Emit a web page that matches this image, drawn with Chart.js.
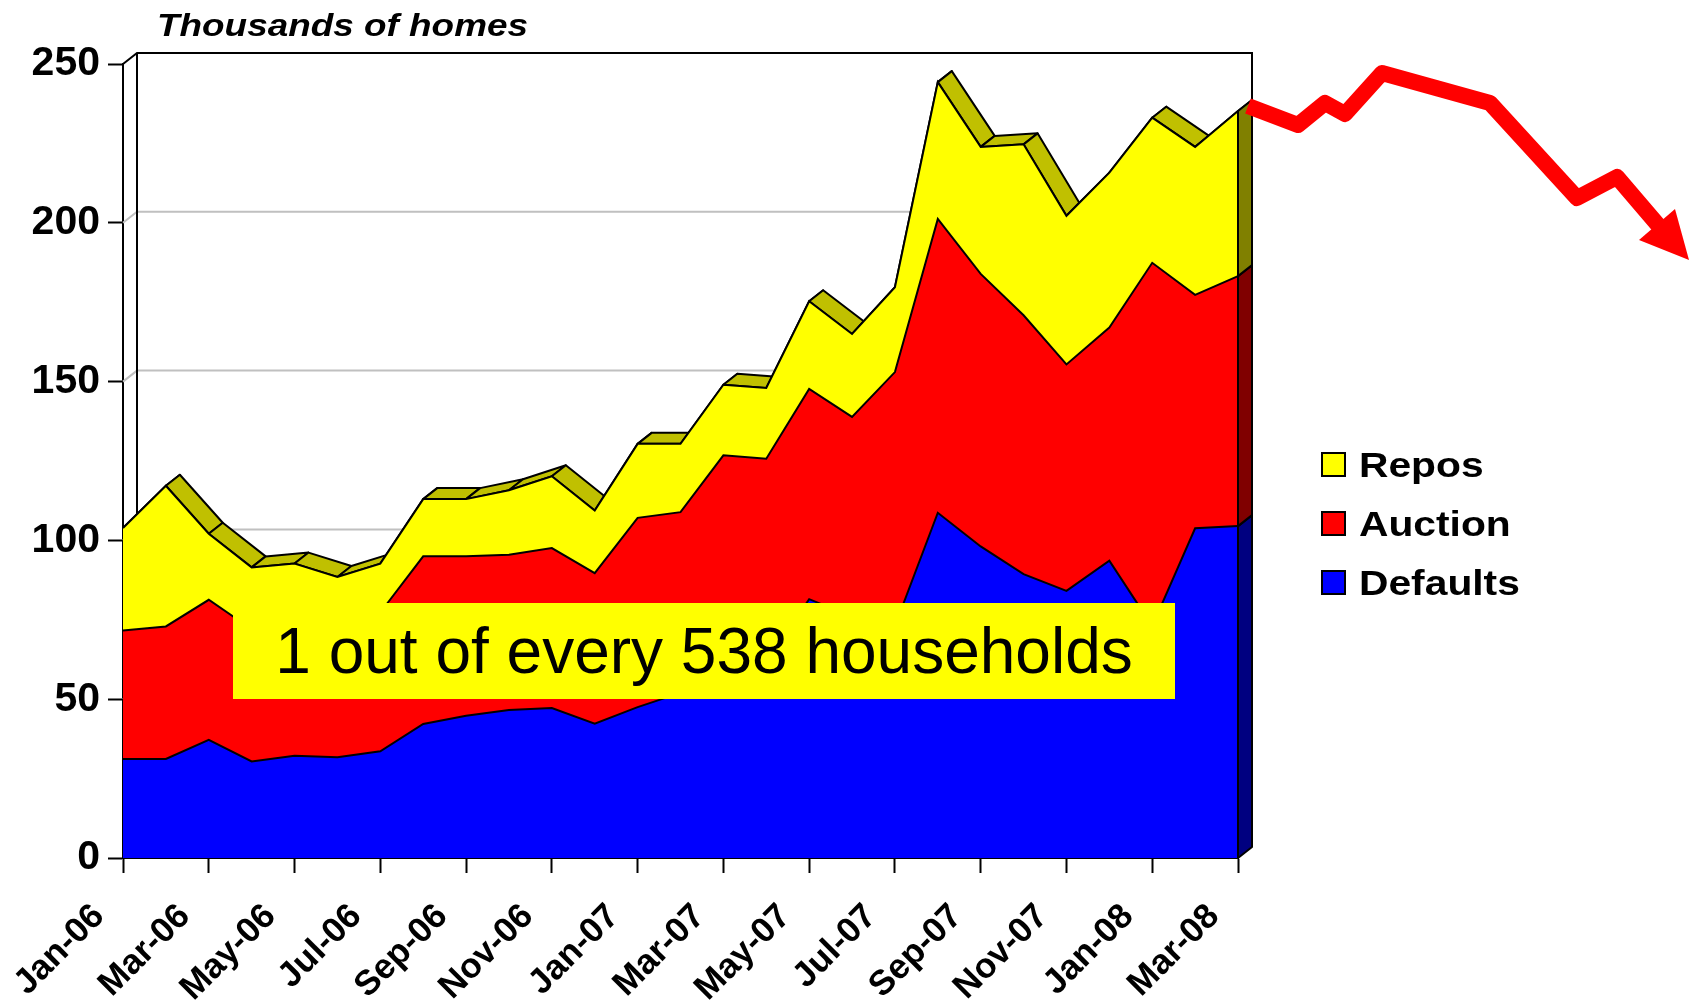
<!DOCTYPE html>
<html>
<head>
<meta charset="utf-8">
<title>Thousands of homes</title>
<script src="https://cdn.jsdelivr.net/npm/chart.js@4.4.0/dist/chart.umd.min.js"></script>
<style>
    body { margin: 0; background: #fff; font-family: 'Liberation Sans', Arial, sans-serif; }
    #wrap { position: relative; width: 1695px; height: 1000px; overflow: hidden; }
    #chart { position: absolute; left: 0; top: 0; }
    .title {
        position: absolute; left: 157px; top: 10px;
        font-size: 31px; line-height: 31px; font-weight: bold; font-style: italic;
        white-space: nowrap; transform: scaleX(1.19); transform-origin: left top;
    }
    .note {
        position: absolute; left: 233px; top: 603px; width: 942px; height: 96px;
        background: #ffff00; display: flex; align-items: center; justify-content: center;
        font-size: 64px; white-space: nowrap;
    }
    .legend { position: absolute; left: 1321px; top: 435px; }
    .legend-item { display: flex; align-items: center; height: 59px; }
    .swatch { width: 25px; height: 25px; box-sizing: border-box; border: 2px solid #000; margin-right: 13px; }
    .legend-item span {
        display: inline-block; font-size: 35px; font-weight: bold; line-height: 35px;
        transform: scaleX(1.165); transform-origin: left center; white-space: nowrap;
    }
</style>
</head>
<body>
<div id="wrap">
    <canvas id="chart" width="1695" height="1000"></canvas>
    <div class="title">Thousands of homes</div>
    <div class="note">1 out of every 538 households</div>
    <div class="legend">
        <div class="legend-item"><div class="swatch" style="background:#ffff00"></div><span>Repos</span></div>
        <div class="legend-item"><div class="swatch" style="background:#ff0000"></div><span>Auction</span></div>
        <div class="legend-item"><div class="swatch" style="background:#0000ff"></div><span>Defaults</span></div>
    </div>
</div>
<script>
const months = ['Jan-06', 'Feb-06', 'Mar-06', 'Apr-06', 'May-06', 'Jun-06', 'Jul-06', 'Aug-06', 'Sep-06',
    'Oct-06', 'Nov-06', 'Dec-06', 'Jan-07', 'Feb-07', 'Mar-07', 'Apr-07', 'May-07', 'Jun-07', 'Jul-07',
    'Aug-07', 'Sep-07', 'Oct-07', 'Nov-07', 'Dec-07', 'Jan-08', 'Feb-08', 'Mar-08'];

// thousands of homes, stacked bottom to top
const defaults = [31.2, 31.2, 37.2, 30.4, 32.2, 31.7, 33.6, 42.2, 44.8, 46.6, 47.2, 42.3, 47.5, 52, 57,
    62, 81.5, 76, 73, 108.7, 98.1, 89.4, 84.1, 93.6, 73.0, 103.8, 104.5];
const auction = [40.4, 41.7, 44.1, 41.6, 41.8, 41.3, 43.7, 52.8, 50.2, 48.9, 50.4, 47.4, 59.6, 56.9, 69.8,
    63.7, 66.2, 62.9, 80.0, 92.5, 85.8, 81.5, 71.3, 73.4, 114.4, 73.5, 78.7];
const repos = [32.3, 44.3, 20.8, 19.5, 18.7, 15.5, 15.4, 18.0, 18.0, 20.3, 22.6, 19.7, 23.3, 21.5, 22.2,
    22.3, 27.6, 26.1, 26.7, 43.1, 40.0, 53.8, 46.8, 48.8, 45.7, 46.6, 52.0];

const yTicks = [0, 50, 100, 150, 200, 250];

const FONT = "'Liberation Sans', Arial, sans-serif";
const DEPTH = { dx: 14, dy: -11 };
const SIDE_COLORS = ['#000080', '#800000', '#808000'];

// red trend arrow drawn to the right of the plot (decoration, canvas pixels)
const ARROW_LINE = [[1248, 106], [1298, 125], [1325, 103], [1345, 114], [1382, 73], [1490, 103],
    [1577, 198], [1617, 177], [1658, 225]];
const ARROW_HEAD = [[1689, 260], [1639, 240], [1675, 209]];

function poly(ctx, pts) {
    ctx.beginPath();
    ctx.moveTo(pts[0][0], pts[0][1]);
    for (let i = 1; i < pts.length; i++) ctx.lineTo(pts[i][0], pts[i][1]);
    ctx.closePath();
}

const depth3d = {
    id: 'depth3d',
    beforeDatasetsDraw(chart) {
        const { ctx, chartArea: a, scales: { y } } = chart;
        const { dx, dy } = DEPTH;
        ctx.save();
        ctx.lineWidth = 2;

        // gridlines on the back wall and side wall
        ctx.strokeStyle = '#c0c0c0';
        yTicks.slice(1, -1).forEach(v => {
            const py = y.getPixelForValue(v);
            ctx.beginPath();
            ctx.moveTo(a.left, py);
            ctx.lineTo(a.left + dx, py + dy);
            ctx.lineTo(a.right + dx, py + dy);
            ctx.stroke();
        });

        // wall outline
        ctx.strokeStyle = '#000';
        ctx.beginPath();
        ctx.moveTo(a.left, a.top);
        ctx.lineTo(a.left + dx, a.top + dy);
        ctx.lineTo(a.right + dx, a.top + dy);
        ctx.lineTo(a.right + dx, a.bottom + dy);
        ctx.moveTo(a.left + dx, a.top + dy);
        ctx.lineTo(a.left + dx, a.bottom + dy);
        ctx.stroke();

        // top faces of the upper series, left to right
        const pts = chart.getDatasetMeta(2).data;
        ctx.fillStyle = '#c0c000';
        ctx.lineJoin = 'round';
        for (let i = 0; i < pts.length - 1; i++) {
            const p = pts[i], q = pts[i + 1];
            poly(ctx, [[p.x, p.y], [q.x, q.y], [q.x + dx, q.y + dy], [p.x + dx, p.y + dy]]);
            ctx.fill();
            ctx.stroke();
        }
        ctx.restore();
    },
    afterDatasetsDraw(chart) {
        const { ctx, chartArea: a, scales: { y } } = chart;
        const { dx, dy } = DEPTH;
        const last = months.length - 1;
        ctx.save();
        ctx.lineWidth = 2;
        ctx.strokeStyle = '#000';
        ctx.lineJoin = 'round';
        let bottom = y.getPixelForValue(0);
        for (let k = 0; k < 3; k++) {
            const p = chart.getDatasetMeta(k).data[last];
            ctx.fillStyle = SIDE_COLORS[k];
            poly(ctx, [[p.x, p.y], [p.x + dx, p.y + dy], [p.x + dx, bottom + dy], [p.x, bottom]]);
            ctx.fill();
            ctx.stroke();
            bottom = p.y;
        }
        const top = chart.getDatasetMeta(2).data[last];
        ctx.beginPath();
        ctx.moveTo(top.x, a.bottom);
        ctx.lineTo(top.x, top.y);
        ctx.stroke();
        ctx.restore();
    },
    afterDraw(chart) {
        const ctx = chart.ctx;
        ctx.save();
        ctx.strokeStyle = '#ff0000';
        ctx.fillStyle = '#ff0000';
        ctx.lineWidth = 16;
        ctx.lineJoin = 'round';
        ctx.lineCap = 'butt';
        ctx.beginPath();
        ARROW_LINE.forEach((p, i) => i ? ctx.lineTo(p[0], p[1]) : ctx.moveTo(p[0], p[1]));
        ctx.stroke();
        poly(ctx, ARROW_HEAD);
        ctx.fill();
        ctx.restore();
    }
};

new Chart(document.getElementById('chart'), {
    type: 'line',
    data: {
        labels: months,
        datasets: [
            { label: 'Defaults', data: defaults, backgroundColor: '#0000ff', fill: 'origin' },
            { label: 'Auction', data: auction, backgroundColor: '#ff0000', fill: '-1' },
            { label: 'Repos', data: repos, backgroundColor: '#ffff00', fill: '-1' }
        ]
    },
    options: {
        responsive: false,
        animation: false,
        layout: { padding: { top: 64, right: 457, left: 0, bottom: 0 } },
        elements: {
            line: { borderColor: '#000', borderWidth: 2, tension: 0 },
            point: { radius: 0, hoverRadius: 0 }
        },
        plugins: { legend: { display: false }, tooltip: { enabled: false } },
        scales: {
            x: {
                z: 1,
                offset: false,
                grid: {
                    drawOnChartArea: false, tickLength: 15, tickWidth: 2,
                    tickColor: c => (c.index % 2 ? 'rgba(0,0,0,0)' : '#000')
                },
                border: { color: '#000', width: 2 },
                ticks: {
                    autoSkip: false, maxRotation: 45, minRotation: 45, padding: 23, labelOffset: -24,
                    color: '#000',
                    font: { family: FONT, size: 35, weight: 'bold' },
                    callback: (v, i) => (i % 2 ? '' : months[i])
                },
                afterFit: s => { s.height = 142; }
            },
            y: {
                z: 1,
                stacked: true,
                min: 0,
                max: 250,
                grid: { drawOnChartArea: false, tickLength: 15, tickWidth: 2, tickColor: '#000' },
                border: { color: '#000', width: 2 },
                ticks: {
                    stepSize: 50, padding: 8, color: '#000',
                    font: { family: FONT, size: 41, weight: 'bold' }
                },
                afterFit: s => { s.width = 123; }
            }
        }
    },
    plugins: [depth3d]
});
</script>
</body>
</html>
